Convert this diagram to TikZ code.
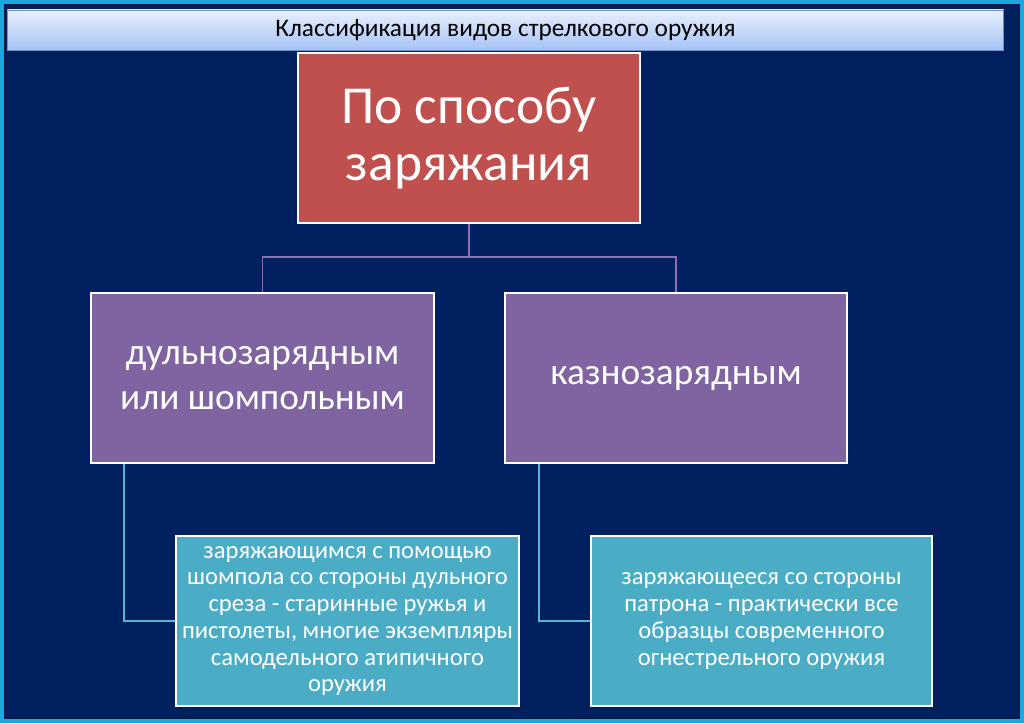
\documentclass[tikz,border=0pt]{standalone}
\usepackage{fontspec}
\setmainfont{Carlito}
\usetikzlibrary{positioning}

\definecolor{frame}{HTML}{1BA8E0}
\definecolor{navy}{HTML}{002060}
\definecolor{navyedge}{HTML}{0B1C44}
\definecolor{redbox}{HTML}{C0504D}
\definecolor{purplebox}{HTML}{8064A2}
\definecolor{bluebox}{HTML}{4BACC6}
\definecolor{purpleline}{HTML}{8C72B0}
\definecolor{blueline}{HTML}{5BB4D6}
\definecolor{titletop}{HTML}{E8EFFD}
\definecolor{titlebottom}{HTML}{A6C3F5}

\tikzset{
  box/.style={rectangle,draw=white,line width=1.4pt,align=center,text=white,inner sep=4pt},
  topbox/.style={box,fill=redbox,minimum width=8.55cm,minimum height=4.25cm,font=\fontsize{38}{40}\selectfont},
  kindbox/.style={box,fill=purplebox,minimum width=8.55cm,minimum height=4.25cm,font=\fontsize{26.5}{32.5}\selectfont},
  notebox/.style={box,fill=bluebox,minimum width=8.5cm,minimum height=4.25cm,font=\fontsize{17.5}{19}\selectfont},
  tree/.style={draw=purpleline,line width=1.4pt},
  link/.style={draw=blueline,line width=1.4pt}
}

\begin{document}
\begin{tikzpicture}[x=0.025cm,y=-0.025cm]

\fill[frame] (0,0) rectangle (1024,723);
\filldraw[fill=navy,draw=navyedge,line width=1.2pt] (5,5) rectangle (1019,718);
\useasboundingbox (0,0) rectangle (1024,723);

% title bar
\node[rectangle,draw=titlebottom!70!navy,line width=0.6pt,top color=titletop,bottom color=titlebottom,
      minimum width=24.9cm,minimum height=1.0cm,font=\fontsize{18}{20}\selectfont] (title) at (505.5,30) {Классификация видов стрелкового оружия};

% boxes
\node[topbox] (top) at (469,138) {По способу\\заряжания};
\node[kindbox] (dul) at (262.5,378) {дульнозарядным\\или шомпольным};
\node[kindbox] (kaz) at (676,378) {казнозарядным};
\node[notebox] (dulnote) at (347.5,621) {заряжающимся с помощью\\шомпола со стороны дульного\\среза - старинные ружья и\\пистолеты, многие экземпляры\\самодельного атипичного\\оружия};
\node[notebox] (kaznote) at (761.5,621) {заряжающееся со стороны\\патрона - практически все\\образцы современного\\огнестрельного оружия};

% connectors
\coordinate (bus) at (469,257);
\draw[tree] (top.south) -- (bus) -| (dul.north);
\draw[tree] (bus) -| (kaz.north);
\draw[link] ([xshift=0.85cm]dul.south west) |- (dulnote.west);
\draw[link] ([xshift=0.875cm]kaz.south west) |- (kaznote.west);

\end{tikzpicture}
\end{document}
